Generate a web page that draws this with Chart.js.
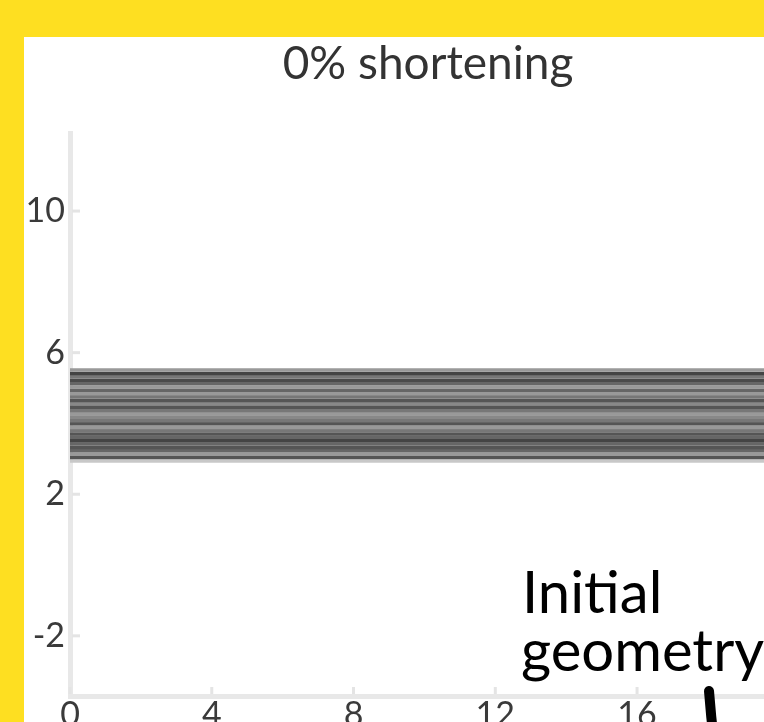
<!DOCTYPE html>
<html>
<head>
<meta charset="utf-8">
<script src="https://cdn.jsdelivr.net/npm/chart.js@4.4.1/dist/chart.umd.min.js"></script>
<style>
  html, body { margin: 0; padding: 0; width: 764px; height: 722px; overflow: hidden; background: #FEDF21; }
  #panel { position: absolute; left: 24px; top: 37px; width: 800px; height: 720px; background: #ffffff; }
  #c { position: absolute; left: 0; top: 0; }
</style>
</head>
<body>
<div id="panel"><canvas id="c" width="808" height="719"></canvas></div>
<script>
// ---- data ----
const titleText = '0% shortening';
const noteLines = ['Initial', 'geometry'];
const xTicks = [0, 4, 8, 12, 16];
const yTicks = [-2, 2, 6, 10];
const layerXStart = 0;
const layerXEnd = 21.5;
const layerDepths = [5.51, 5.41, 5.32, 5.22, 5.13, 5.03, 4.94, 4.84, 4.75, 4.65,
                     4.56, 4.46, 4.37, 4.27, 4.18, 4.08, 3.99, 3.89, 3.80, 3.70,
                     3.61, 3.51, 3.42, 3.32, 3.23, 3.13, 3.04, 2.94];
const layerGrays = ['#999999', '#444444', '#777777', '#4a4a4a', '#666666', '#999999', '#666666', '#999999', '#777777', '#555555',
                    '#888888', '#555555', '#777777', '#999999', '#888888', '#777777', '#555555', '#999999', '#777777', '#555555',
                    '#666666', '#444444', '#666666', '#555555', '#666666', '#999999', '#555555', '#c8c8c8'];

const datasets = layerDepths.map((d, i) => ({
  data: [{ x: layerXStart, y: d }, { x: layerXEnd, y: d }],
  borderColor: layerGrays[i],
  borderWidth: 3.6,
  pointRadius: 0,
  showLine: true,
  fill: false
}));

const inwardTicks = {
  id: 'inwardTicks',
  beforeDatasetsDraw(chart) {
    const { ctx, chartArea, scales } = chart;
    ctx.save();
    ctx.strokeStyle = '#e4e4e4';
    ctx.lineWidth = 3;
    yTicks.forEach(v => {
      const y = scales.y.getPixelForValue(v);
      ctx.beginPath(); ctx.moveTo(chartArea.left + 2, y); ctx.lineTo(chartArea.left + 10, y); ctx.stroke();
    });
    xTicks.forEach(v => {
      const x = scales.x.getPixelForValue(v);
      ctx.beginPath(); ctx.moveTo(x, chartArea.bottom - 2); ctx.lineTo(x, chartArea.bottom - 9); ctx.stroke();
    });
    ctx.restore();
  }
};

const note = {
  id: 'note',
  afterDraw(chart) {
    const { ctx } = chart;
    ctx.save();
    ctx.fillStyle = '#000000';
    ctx.font = '58px Lato';
    ctx.textBaseline = 'alphabetic';
    ctx.textAlign = 'left';
    ctx.fillText(noteLines[0], 498, 576);
    ctx.fillText(noteLines[1], 497, 634);
    ctx.strokeStyle = '#000000';
    ctx.lineWidth = 10;
    ctx.lineCap = 'round';
    ctx.beginPath();
    ctx.moveTo(685, 654);
    ctx.quadraticCurveTo(687, 680, 690, 705);
    ctx.stroke();
    ctx.restore();
  }
};

new Chart(document.getElementById('c'), {
  type: 'scatter',
  data: { datasets },
  options: {
    responsive: false,
    animation: false,
    devicePixelRatio: 1,
    layout: { padding: { top: 0, left: 0, right: 0, bottom: 0 } },
    plugins: {
      legend: { display: false },
      tooltip: { enabled: false },
      title: {
        display: true,
        text: titleText,
        color: '#333333',
        font: { family: 'Lato', size: 46, weight: 'normal', lineHeight: 1.2 },
        padding: { top: 0, bottom: 41 }
      }
    },
    scales: {
      x: {
        type: 'linear',
        min: 0,
        max: 21.5,
        afterBuildTicks: s => { s.ticks = xTicks.map(v => ({ value: v })); },
        afterFit: s => { s.height = 60; },
        grid: { display: false, drawTicks: false },
        border: { display: true, color: '#e8e8e8', width: 5 },
        ticks: { color: '#3a3a3a', font: { family: 'Lato', size: 34 }, padding: -1, maxRotation: 0, autoSkip: false }
      },
      y: {
        type: 'linear',
        min: -3.7,
        max: 12.2,
        afterBuildTicks: s => { s.ticks = yTicks.map(v => ({ value: v })); },
        afterFit: s => { s.width = 46; },
        grid: { display: false, drawTicks: false },
        border: { display: true, color: '#e8e8e8', width: 5 },
        ticks: { color: '#3a3a3a', font: { family: 'Lato', size: 34 }, padding: 5, autoSkip: false }
      }
    }
  },
  plugins: [inwardTicks, note]
});
</script>
</body>
</html>
